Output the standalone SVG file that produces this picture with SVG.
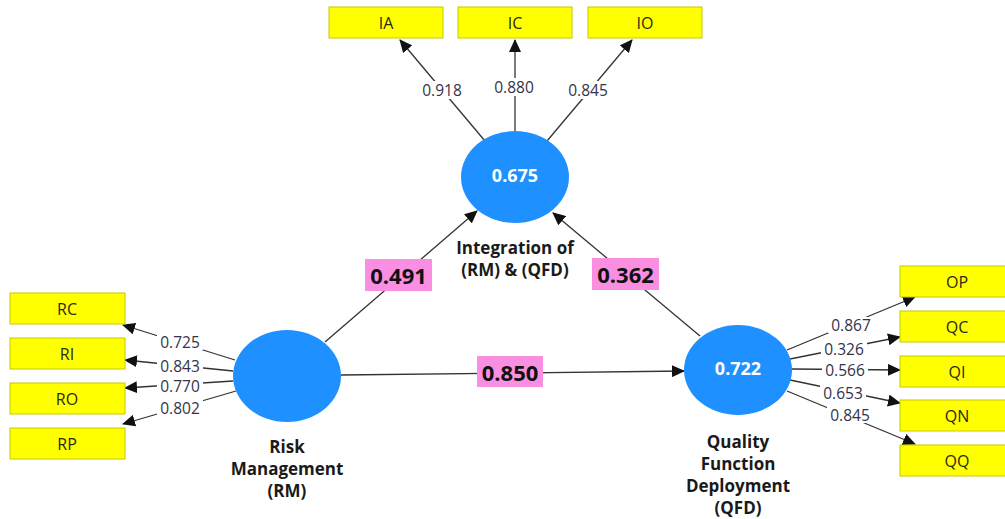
<svg xmlns="http://www.w3.org/2000/svg" width="1005" height="519" viewBox="0 0 1005 519">
<style>
.ind{fill:#ffff00;stroke:#c8c800;stroke-width:1}
.indt{font-family:"Open Sans","Liberation Sans",sans-serif;font-size:16px;fill:#2a2a10;text-anchor:middle;dominant-baseline:central}
.lv{fill:#1e90ff}
.lvt{font-family:"Open Sans","Liberation Sans",sans-serif;font-size:18px;font-weight:bold;fill:#ffffff;text-anchor:middle;dominant-baseline:central}
.nm{font-family:"Open Sans","Liberation Sans",sans-serif;font-size:17px;font-weight:bold;fill:#1a1a1a;text-anchor:middle}
.ln{stroke:#333333;stroke-width:1.3;fill:none;marker-end:url(#ah)}
.bg{fill:#ffffff}
.ld{font-family:"Open Sans","Liberation Sans",sans-serif;font-size:15.5px;fill:#33334a;text-anchor:middle;dominant-baseline:central}
.pk{fill:#fa8fe2}
.pkt{font-family:"Open Sans","Liberation Sans",sans-serif;font-size:22px;font-weight:bold;fill:#111111;text-anchor:middle;dominant-baseline:central}
</style>
<defs>
<marker id="ah" markerUnits="userSpaceOnUse" markerWidth="13" markerHeight="12" refX="12" refY="6" orient="auto">
<path d="M0,0 L13,6 L0,12 Z" fill="#111111"/>
</marker>
</defs>
<rect width="1005" height="519" fill="#ffffff"/>
<g id="connectors">
<line class="ln" x1="485" y1="141" x2="400" y2="40"/>
<line class="ln" x1="515" y1="131" x2="515" y2="40"/>
<line class="ln" x1="547" y1="141" x2="632" y2="40"/>
<line class="ln" x1="235" y1="360" x2="123" y2="325"/>
<line class="ln" x1="233" y1="371" x2="125" y2="360"/>
<line class="ln" x1="233" y1="381" x2="125" y2="388"/>
<line class="ln" x1="236" y1="391" x2="123" y2="424"/>
<line class="ln" x1="787" y1="350" x2="915" y2="297"/>
<line class="ln" x1="790" y1="359" x2="900" y2="337"/>
<line class="ln" x1="792" y1="369" x2="900" y2="370"/>
<line class="ln" x1="790" y1="380" x2="900" y2="403"/>
<line class="ln" x1="787" y1="391" x2="915" y2="444"/>
<line class="ln" x1="325" y1="342" x2="477" y2="211"/>
<line class="ln" x1="700" y1="336" x2="553" y2="213"/>
<line class="ln" x1="341" y1="375" x2="684" y2="371"/>
<rect class="bg" x="419" y="81" width="46" height="18"/>
<text class="ld" x="442" y="90">0.918</text>
<rect class="bg" x="491" y="78" width="46" height="18"/>
<text class="ld" x="514" y="87">0.880</text>
<rect class="bg" x="565" y="81" width="46" height="18"/>
<text class="ld" x="588" y="90">0.845</text>
<rect class="bg" x="157" y="334" width="46" height="16"/>
<text class="ld" x="180" y="342">0.725</text>
<rect class="bg" x="157" y="358" width="46" height="16"/>
<text class="ld" x="180" y="366">0.843</text>
<rect class="bg" x="157" y="378" width="46" height="16"/>
<text class="ld" x="180" y="386">0.770</text>
<rect class="bg" x="157" y="400" width="46" height="16"/>
<text class="ld" x="180" y="408">0.802</text>
<rect class="bg" x="828" y="317" width="46" height="16"/>
<text class="ld" x="851" y="325">0.867</text>
<rect class="bg" x="821" y="341" width="46" height="16"/>
<text class="ld" x="844" y="349">0.326</text>
<rect class="bg" x="822" y="362" width="46" height="16"/>
<text class="ld" x="845" y="370">0.566</text>
<rect class="bg" x="820" y="385" width="46" height="16"/>
<text class="ld" x="843" y="393">0.653</text>
<rect class="bg" x="827" y="407" width="46" height="16"/>
<text class="ld" x="850" y="415">0.845</text>
<rect class="pk" x="365" y="259" width="67" height="32"/>
<text class="pkt" x="398.5" y="275">0.491</text>
<rect class="pk" x="592" y="258" width="67" height="32"/>
<text class="pkt" x="625.5" y="274">0.362</text>
<rect class="pk" x="477" y="356" width="66" height="31"/>
<text class="pkt" x="510" y="371.5">0.850</text>
</g>
<g id="IA"><rect class="ind" x="329" y="7" width="114" height="31"/><text class="indt" x="386" y="22.5">IA</text></g>
<g id="IC"><rect class="ind" x="458" y="7" width="114" height="31"/><text class="indt" x="515" y="22.5">IC</text></g>
<g id="IO"><rect class="ind" x="588" y="7" width="114" height="31"/><text class="indt" x="645" y="22.5">IO</text></g>
<g id="RC"><rect class="ind" x="10" y="293" width="115" height="31"/><text class="indt" x="67" y="308.5">RC</text></g>
<g id="RI"><rect class="ind" x="10" y="338" width="115" height="31"/><text class="indt" x="67" y="353.5">RI</text></g>
<g id="RO"><rect class="ind" x="10" y="383" width="115" height="31"/><text class="indt" x="67" y="398.5">RO</text></g>
<g id="RP"><rect class="ind" x="10" y="428" width="115" height="31"/><text class="indt" x="67" y="443.5">RP</text></g>
<g id="OP"><rect class="ind" x="900" y="266" width="115" height="31"/><text class="indt" x="957" y="281.5">OP</text></g>
<g id="QC"><rect class="ind" x="900" y="311" width="115" height="31"/><text class="indt" x="957" y="326.5">QC</text></g>
<g id="QI"><rect class="ind" x="900" y="356" width="115" height="31"/><text class="indt" x="957" y="371.5">QI</text></g>
<g id="QN"><rect class="ind" x="900" y="400" width="115" height="31"/><text class="indt" x="957" y="415.5">QN</text></g>
<g id="QQ"><rect class="ind" x="900" y="445" width="115" height="31"/><text class="indt" x="957" y="460.5">QQ</text></g>
<g id="INT">
<ellipse class="lv" cx="515" cy="177" rx="54" ry="46"/>
<text class="lvt" x="515" y="175">0.675</text>
<text class="nm" x="515" y="254">Integration of</text>
<text class="nm" x="515" y="276">(RM) &amp; (QFD)</text>
</g>
<g id="RM">
<ellipse class="lv" cx="287" cy="376" rx="54" ry="46"/>
<text class="nm" x="287" y="453">Risk</text>
<text class="nm" x="287" y="475">Management</text>
<text class="nm" x="287" y="497">(RM)</text>
</g>
<g id="QFD">
<ellipse class="lv" cx="738" cy="370" rx="54" ry="45"/>
<text class="lvt" x="738" y="368">0.722</text>
<text class="nm" x="738" y="448">Quality</text>
<text class="nm" x="738" y="470">Function</text>
<text class="nm" x="738" y="492">Deployment</text>
<text class="nm" x="738" y="514">(QFD)</text>
</g>
</svg>
